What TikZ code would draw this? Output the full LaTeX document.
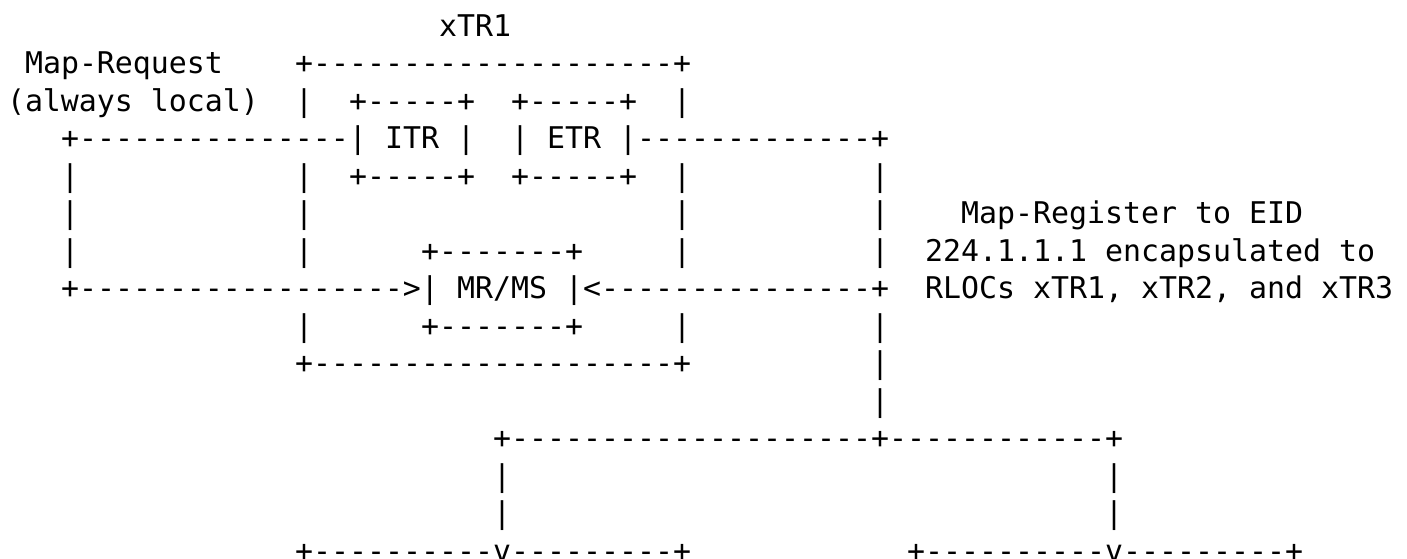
\documentclass[tikz,border=0pt]{standalone}
\usepackage{fontspec}
\setmonofont{DejaVu Sans Mono}
\frenchspacing
\tikzset{
  asc/.style={anchor=base west, inner sep=0pt, outer sep=0pt, text=black,
              font=\ttfamily\fontsize{29.9pt}{37.5pt}\selectfont}
}
% #1 name, #2 column, #3 row, #4 text
\newcommand\asciiat[4]{\node[asc] (#1) at ({7+18*#2},{36+37.5*(#3-1)}) {#4};}
\begin{document}
\begin{tikzpicture}[x=1pt,y=-1pt]
\fill[white] (0,0) rectangle (1407,558);
\useasboundingbox (0,0) rectangle (1407,558);
\clip (0,0) rectangle (1407,558);
% row 1
\asciiat{xtrlabel}{24}{1}{xTR1}
% row 2
\asciiat{maprequest}{1}{2}{Map-Request}
\asciiat{xtrtop}{16}{2}{+--------------------+}
% row 3
\asciiat{alwayslocal}{0}{3}{(always local)}
\asciiat{xtrleftA}{16}{3}{|}
\asciiat{itrtop}{19}{3}{+-----+}
\asciiat{etrtop}{28}{3}{+-----+}
\asciiat{xtrrightA}{37}{3}{|}
% row 4
\asciiat{reqline}{3}{4}{+---------------|}
\asciiat{itr}{21}{4}{ITR}
\asciiat{itrright}{25}{4}{|}
\asciiat{etrleft}{28}{4}{|}
\asciiat{etr}{30}{4}{ETR}
\asciiat{regline}{34}{4}{|-------------+}
% row 5
\asciiat{reqvA}{3}{5}{|}
\asciiat{xtrleftB}{16}{5}{|}
\asciiat{itrbot}{19}{5}{+-----+}
\asciiat{etrbot}{28}{5}{+-----+}
\asciiat{xtrrightB}{37}{5}{|}
\asciiat{regvA}{48}{5}{|}
% row 6
\asciiat{reqvB}{3}{6}{|}
\asciiat{xtrleftC}{16}{6}{|}
\asciiat{xtrrightC}{37}{6}{|}
\asciiat{regvB}{48}{6}{|}
\asciiat{regtextA}{53}{6}{Map-Register to EID}
% row 7
\asciiat{reqvC}{3}{7}{|}
\asciiat{xtrleftD}{16}{7}{|}
\asciiat{mrmstop}{23}{7}{+-------+}
\asciiat{xtrrightD}{37}{7}{|}
\asciiat{regvC}{48}{7}{|}
\asciiat{regtextB}{51}{7}{224.1.1.1 encapsulated to}
% row 8
\asciiat{reqarrow}{3}{8}{+------------------>|}
\asciiat{mrms}{25}{8}{MR/MS}
\asciiat{regarrow}{31}{8}{|<---------------+}
\asciiat{regtextC}{51}{8}{RLOCs xTR1, xTR2, and xTR3}
% row 9
\asciiat{xtrleftE}{16}{9}{|}
\asciiat{mrmsbot}{23}{9}{+-------+}
\asciiat{xtrrightE}{37}{9}{|}
\asciiat{regvD}{48}{9}{|}
% row 10
\asciiat{xtrbot}{16}{10}{+--------------------+}
\asciiat{regvE}{48}{10}{|}
% row 11
\asciiat{regvF}{48}{11}{|}
% row 12
\asciiat{split}{27}{12}{+--------------------+------------+}
% row 13
\asciiat{dropAa}{27}{13}{|}
\asciiat{dropBa}{61}{13}{|}
% row 14
\asciiat{dropAb}{27}{14}{|}
\asciiat{dropBb}{61}{14}{|}
% row 15
\asciiat{boxAtop}{16}{15}{+----------v---------+}
\asciiat{boxBtop}{50}{15}{+----------v---------+}
\end{tikzpicture}
\end{document}
